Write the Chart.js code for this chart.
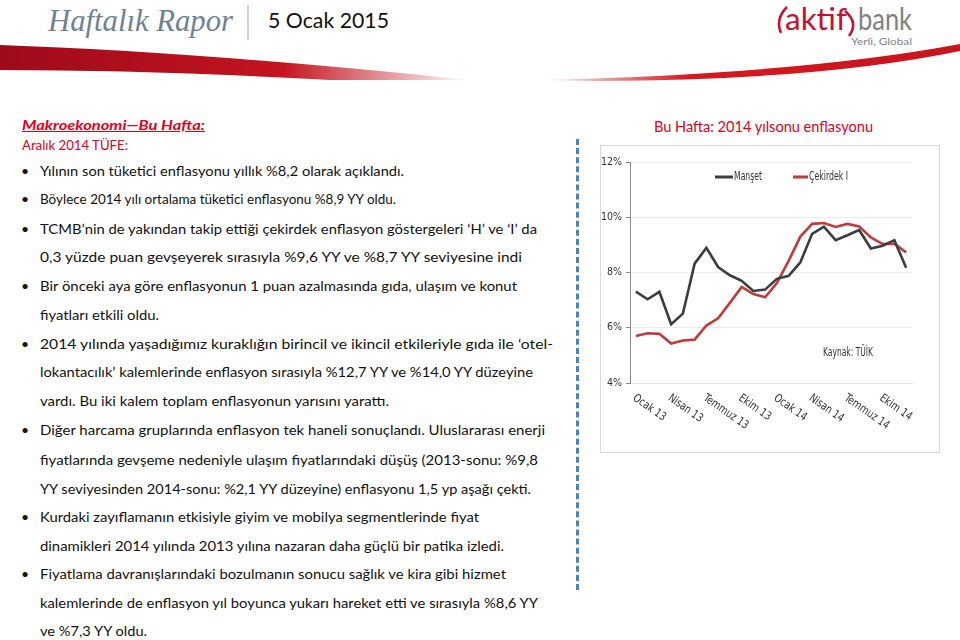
<!DOCTYPE html>
<html><head><meta charset="utf-8">
<script src="https://cdn.jsdelivr.net/npm/chart.js@4/dist/chart.umd.min.js"></script>
<style>
html,body{margin:0;padding:0;background:#fff;width:960px;height:640px;overflow:hidden;}
body{position:relative;font-family:Lato,'Open Sans',sans-serif;color:#111;}
.t{position:absolute;white-space:nowrap;transform-origin:0 50%;line-height:1;font-size:14px;}
.b{position:absolute;left:21px;font-size:14px;line-height:1;}
#chartBox{position:absolute;left:600px;top:145px;width:340px;height:308px;border:1px solid #d9d9d9;box-sizing:border-box;}
#c{position:absolute;left:600px;top:145px;}
#dash{position:absolute;left:576px;top:139px;height:451px;border-left:3px dashed #4f81bd;}
</style></head>
<body>
<svg width="960" height="90" style="position:absolute;left:0;top:0">
  <defs>
    <linearGradient id="gl" x1="0" x2="1" y1="0" y2="0">
      <stop offset="0" stop-color="#9e0b1b"/><stop offset="0.6" stop-color="#c3141f"/><stop offset="1" stop-color="#ffffff"/>
    </linearGradient>
    <linearGradient id="gr" x1="0" x2="1" y1="0" y2="0">
      <stop offset="0" stop-color="#ffffff"/><stop offset="0.35" stop-color="#d41a1f"/><stop offset="1" stop-color="#c8141c"/>
    </linearGradient>
  </defs>
  <path d="M0,45 Q200,52 470,80 L330,80 Q150,70 0,70 Z" fill="url(#gl)"/>
  <path d="M540,80 Q800,74 960,44 L960,51 Q820,80 600,81 Z" fill="url(#gr)"/>
  <line x1="248" y1="5" x2="248" y2="40" stroke="#9aa3ad" stroke-width="1"/>
  <path d="M787,7 Q775,19 781,33" stroke="#c8102e" stroke-width="2.5" fill="none"/>
  <path d="M845,11 Q859,23 849,36" stroke="#c8102e" stroke-width="2.5" fill="none"/>
</svg>
<div class="t" data-w="185" style="left:48px;top:4px;font-family:'Liberation Serif',serif;font-style:italic;font-size:32px;color:#6f8196;">Haftalık Rapor</div>
<div class="t" data-w="121" style="left:268px;top:9px;font-size:22px;color:#111;">5 Ocak 2015</div>
<div class="t" data-w="62" style="left:785px;top:3px;font-size:30px;color:#c8102e;">aktif</div>
<div class="t" data-w="54" style="left:858px;top:3px;font-size:30px;color:#7d8286;">bank</div>
<div class="t" data-w="61" style="left:851px;top:36px;font-size:10px;color:#7d8286;">Yerli, Global</div>

<div class="t" data-w="183" style="left:22px;top:118px;color:#e3001b;font-weight:bold;font-style:italic;text-decoration:underline;">Makroekonomi—Bu  Hafta:</div>
<div class="t" data-w="106" style="left:22px;top:138px;color:#e3001b;">Aralık 2014 TÜFE:</div>

<div class="b" style="top:164px">•</div><div class="t" data-w="364" style="left:40px;top:164px">Yılının son tüketici enflasyonu yıllık %8,2 olarak açıklandı.</div>
<div class="b" style="top:192px">•</div><div class="t" data-w="356" style="left:40px;top:192px">Böylece 2014 yılı ortalama tüketici enflasyonu %8,9 YY oldu.</div>
<div class="b" style="top:222px">•</div><div class="t" data-w="497" style="left:40px;top:222px">TCMB’nin de yakından takip ettiği çekirdek enflasyon göstergeleri ‘H’ ve ‘I’ da</div>
<div class="t" data-w="482" style="left:40px;top:250px">0,3 yüzde puan gevşeyerek sırasıyla %9,6 YY ve %8,7 YY seviyesine indi</div>
<div class="b" style="top:279px">•</div><div class="t" data-w="477" style="left:40px;top:279px">Bir önceki aya göre enflasyonun 1 puan azalmasında gıda, ulaşım ve konut</div>
<div class="t" data-w="119" style="left:40px;top:308px">fiyatları etkili oldu.</div>
<div class="b" style="top:337px">•</div><div class="t" data-w="513" style="left:40px;top:337px">2014 yılında yaşadığımız kuraklığın birincil ve ikincil etkileriyle gıda ile ‘otel-</div>
<div class="t" data-w="493" style="left:40px;top:365px">lokantacılık’ kalemlerinde enflasyon sırasıyla %12,7 YY ve %14,0 YY düzeyine</div>
<div class="t" data-w="349" style="left:40px;top:394px">vardı. Bu iki kalem toplam enflasyonun yarısını yarattı.</div>
<div class="b" style="top:423px">•</div><div class="t" data-w="505" style="left:40px;top:423px">Diğer harcama gruplarında enflasyon tek haneli sonuçlandı. Uluslararası enerji</div>
<div class="t" data-w="498" style="left:40px;top:453px">fiyatlarında gevşeme nedeniyle ulaşım fiyatlarındaki  düşüş (2013-sonu: %9,8</div>
<div class="t" data-w="491" style="left:40px;top:482px">YY seviyesinden 2014-sonu: %2,1 YY düzeyine) enflasyonu 1,5 yp aşağı çekti.</div>
<div class="b" style="top:510px">•</div><div class="t" data-w="439" style="left:40px;top:510px">Kurdaki zayıflamanın etkisiyle giyim ve mobilya segmentlerinde fiyat</div>
<div class="t" data-w="464" style="left:40px;top:539px">dinamikleri 2014 yılında 2013 yılına nazaran daha güçlü bir patika izledi.</div>
<div class="b" style="top:567px">•</div><div class="t" data-w="466" style="left:40px;top:567px">Fiyatlama davranışlarındaki bozulmanın sonucu sağlık ve kira gibi hizmet</div>
<div class="t" data-w="498" style="left:40px;top:596px">kalemlerinde de enflasyon yıl boyunca yukarı hareket etti ve sırasıyla %8,6 YY</div>
<div class="t" data-w="107" style="left:40px;top:624px">ve %7,3 YY oldu.</div>

<div class="t" data-w="219" style="left:654px;top:119px;color:#e3001b;font-size:15px;">Bu Hafta: 2014 yılsonu enflasyonu</div>
<div id="dash"></div>
<div id="chartBox"></div>
<canvas id="c" width="340" height="308"></canvas>
<script>
const categories = ['Ocak 13','Şubat 13','Mart 13','Nisan 13','Mayıs 13','Haziran 13','Temmuz 13','Ağustos 13','Eylül 13','Ekim 13','Kasım 13','Aralık 13',
                    'Ocak 14','Şubat 14','Mart 14','Nisan 14','Mayıs 14','Haziran 14','Temmuz 14','Ağustos 14','Eylül 14','Ekim 14','Kasım 14','Aralık 14'];
const manset   = [7.31,7.03,7.30,6.13,6.51,8.32,8.89,8.20,7.90,7.70,7.33,7.38,7.77,7.88,8.37,9.40,9.66,9.17,9.35,9.54,8.87,8.97,9.17,8.17];
const cekirdek = [5.70,5.80,5.78,5.43,5.54,5.57,6.08,6.34,6.90,7.48,7.22,7.10,7.62,8.42,9.30,9.76,9.79,9.65,9.76,9.67,9.27,9.03,9.04,8.73];
const yTicks = [4,6,8,10,12];
const seriesNames = ['Manşet','Çekirdek I'];
const seriesColors = ['#3d3d3d','#c23a3a'];
const sourceNote = 'Kaynak: TÜİK';

document.querySelectorAll('[data-w]').forEach(el=>{
  const w = el.getBoundingClientRect().width;
  el.style.transform = 'scaleX(' + (+el.dataset.w / w) + ')';
});

const FONT = "'Liberation Sans Narrow','DejaVu Sans Condensed',sans-serif";
function fitText(ctx, txt, x, y, target){
  const w = ctx.measureText(txt).width;
  ctx.save(); ctx.translate(x, y); ctx.scale(Math.min(1, target / w), 1);
  ctx.fillText(txt, 0, 0); ctx.restore();
}
const overlay = {
  id:'overlay',
  afterDraw(chart){
    const {ctx, chartArea} = chart;
    const x = chart.scales.x;
    ctx.save();
    ctx.fillStyle = '#333';
    ctx.font = '11.5px ' + FONT;
    categories.forEach((c,i)=>{
      if (i % 3) return;
      const px = x.getPixelForValue(i);
      ctx.save();
      ctx.translate(px - 2, chartArea.bottom + 14);
      ctx.rotate(35 * Math.PI / 180);
      ctx.textAlign = 'left'; ctx.textBaseline = 'middle';
      ctx.scale(0.88, 1);
      ctx.fillText(c, 0, 0);
      ctx.restore();
    });
    // legend
    const leg = [[115,133,28],[193,208,39]];
    ctx.textAlign = 'left'; ctx.textBaseline = 'middle';
    ctx.font = '12.5px ' + FONT;
    seriesNames.forEach((n,k)=>{
      ctx.strokeStyle = seriesColors[k]; ctx.lineWidth = 3;
      ctx.beginPath(); ctx.moveTo(leg[k][0], 32); ctx.lineTo(leg[k][1], 32); ctx.stroke();
      fitText(ctx, n, leg[k][1] + 1, 32, leg[k][2]);
    });
    ctx.font = '13px ' + FONT;
    fitText(ctx, sourceNote, 223, 208, 50);
    ctx.restore();
  }
};

new Chart(document.getElementById('c'), {
  type:'line',
  data:{labels:categories, datasets:[
    {label:seriesNames[0], data:manset, borderColor:seriesColors[0], borderWidth:2.6, pointRadius:0, tension:0},
    {label:seriesNames[1], data:cekirdek, borderColor:seriesColors[1], borderWidth:2.6, pointRadius:0, tension:0}
  ]},
  options:{
    responsive:false, animation:false, devicePixelRatio:1,
    layout:{padding:{top:17,right:28,left:0,bottom:0}},
    plugins:{legend:{display:false}, tooltip:{enabled:false}},
    scales:{
      x:{offset:true, grid:{display:false}, border:{color:'#e3e3e3'}, ticks:{display:false},
         afterFit(s){ s.height = 70; }},
      y:{min:4, max:12, afterBuildTicks(s){ s.ticks = yTicks.map(v=>({value:v})); },
         ticks:{callback:v=>v+'%', color:'#333', font:{family:FONT, size:10.5}, padding:4},
         grid:{color:'#ececec', tickColor:'#888', tickLength:4},
         border:{color:'#8a8a8a'},
         afterFit(s){ s.width = 30; }}
    }
  },
  plugins:[overlay]
});
</script>
</body></html>
